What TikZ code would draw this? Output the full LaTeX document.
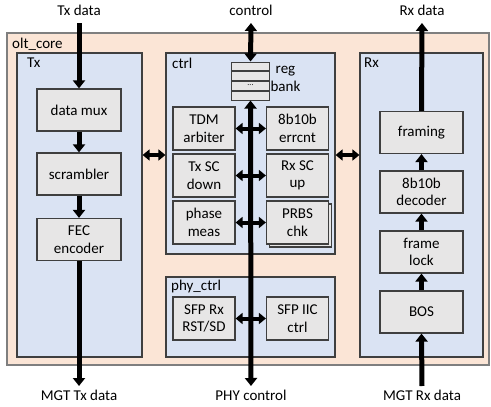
\documentclass[tikz,border=0pt]{standalone}
\usepackage{fontspec}
\setmainfont{Carlito}
\usetikzlibrary{arrows.meta}
\definecolor{peach}{HTML}{FBE5D6}
\definecolor{paleblue}{HTML}{DAE3F3}
\definecolor{boxgray}{HTML}{E7E6E6}
\definecolor{edgegray}{HTML}{7F7F7F}
\definecolor{darkedge}{HTML}{3F3F3F}
\tikzset{
  outerbox/.style={draw=edgegray, line width=1.5pt, fill=peach, minimum width=482pt, minimum height=332pt},
  groupbox/.style={draw=darkedge, line width=1.2pt, fill=paleblue},
  blockbox/.style={draw=darkedge, line width=1.2pt, fill=boxgray, align=center, inner sep=0pt},
  txbox/.style={blockbox, minimum width=84pt, minimum height=42pt},
  ctbox/.style={blockbox, minimum width=62pt, minimum height=43pt},
  rxbox/.style={blockbox, minimum width=83pt, minimum height=42pt},
  title/.style={anchor=west, inner sep=0pt},
  extlabel/.style={inner sep=0pt},
  bigflow/.style={line width=5pt, -{Triangle[width=12pt,length=8pt]}},
  bigbi/.style={line width=5pt, {Triangle[width=12pt,length=8pt]}-{Triangle[width=12pt,length=8pt]}},
  sidebi/.style={line width=4pt, {Triangle[width=11pt,length=7pt]}-{Triangle[width=11pt,length=7pt]}},
  regrow/.style={draw=darkedge, line width=1pt, fill=boxgray, minimum width=38pt, minimum height=8.75pt, inner sep=0pt, font=\fontsize{8}{8}\selectfont}
}
\begin{document}
\begin{tikzpicture}[x=1pt, y=-1pt, font=\fontsize{15}{17.5}\selectfont]
\useasboundingbox (0,0) rectangle (491,407);

% external labels
\node[extlabel] (txlbl) at (79,10) {Tx data};
\node[extlabel] (ctllbl) at (251,10) {control};
\node[extlabel] (rxlbl) at (422,10) {Rx data};
\node[extlabel] (mgttxlbl) at (79,395) {MGT Tx data};
\node[extlabel] (phylbl) at (251,395) {PHY control};
\node[extlabel] (mgtrxlbl) at (422,395) {MGT Rx data};

\coordinate (txin) at (79,23);
\coordinate (txout) at (79,386);
\coordinate (ctlin) at (251,23);
\coordinate (ctlout) at (251,386);
\coordinate (rxin) at (422,386);
\coordinate (rxout) at (422,23);

% containers
\node[outerbox] (core) at (248,199) {};
\node[title] (corelbl) at (12,44) {olt\_core};
\node[groupbox, minimum width=125pt, minimum height=304pt] (tx) at (79.5,205) {};
\node[title] (txlabel) at (27,63) {Tx};
\node[groupbox, minimum width=169pt, minimum height=201pt] (ctrl) at (250.5,153.5) {};
\node[title] (ctrllabel) at (172,63) {ctrl};
\node[groupbox, minimum width=169pt, minimum height=80pt] (phy) at (250.5,317) {};
\node[title] (phylabel) at (171,286) {phy\_ctrl};
\node[groupbox, minimum width=123pt, minimum height=304pt] (rx) at (421.5,205) {};
\node[title] (rxlabel) at (364,63) {Rx};

% Tx blocks
\node[txbox] (mux) at (79,110) {data mux};
\node[txbox] (scr) at (79,174) {scrambler};
\node[txbox] (fec) at (79,239.5) {FEC\\encoder};

% Rx blocks
\node[rxbox] (framing) at (421.5,132.5) {framing};
\node[rxbox] (dec) at (421.5,192) {8b10b\\decoder};
\node[rxbox] (flock) at (421.5,252) {frame\\lock};
\node[rxbox] (bos) at (421.5,312) {BOS};

% ctrl blocks
\node[ctbox] (tdm) at (204,128.5) {TDM\\arbiter};
\node[ctbox] (errcnt) at (297.5,128.5) {8b10b\\errcnt};
\node[ctbox] (txsc) at (204,175.5) {Tx SC\\down};
\node[ctbox] (rxsc) at (297.5,175.5) {Rx SC\\up};
\node[ctbox] (phase) at (204,222.5) {phase\\meas};
\node[ctbox] (prbsshadow) at (300.5,225.5) {};
\node[ctbox] (prbs) at (297.5,222.5) {PRBS\\chk};
\node[ctbox] (sfprx) at (204,318.5) {SFP Rx\\RST/SD};
\node[ctbox] (sfpiic) at (297.5,318.5) {SFP IIC\\ctrl};

% register bank
\node[regrow] (r1) at (250.5,66.4) {};
\node[regrow, anchor=north] (r2) at (r1.south) {};
\node[regrow, anchor=north] (r3) at (r2.south) {\raisebox{1pt}{...}};
\node[regrow, anchor=north] (r4) at (r3.south) {};
\coordinate (regtop) at (r1.north);
\coordinate (regbot) at (r4.south);
\node[align=center, inner sep=0pt] (reglbl) at (285.5,79) {reg\\bank};

% Tx data path
\draw[bigflow] (txin) -- (mux.north);
\draw[bigflow] (mux.south) -- (scr.north);
\draw[bigflow] (scr.south) -- (fec.north);
\draw[bigflow] (fec.south) -- (txout);

% Rx data path
\draw[bigflow] (rxin) -- (bos.south);
\draw[bigflow] (bos.north) -- (flock.south);
\draw[bigflow] (flock.north) -- (dec.south);
\draw[bigflow] (dec.north) -- (framing.south);
\draw[bigflow] (framing.north) -- (rxout);

% control bus
\draw[bigbi] (ctlin) -- (regtop);
\draw[bigbi] (regbot) -- (ctlout);

% ctrl side arrows
\draw[sidebi] (tdm.east) -- (errcnt.west);
\draw[sidebi] (txsc.east) -- (rxsc.west);
\draw[sidebi] (phase.east) -- (prbs.west);
\draw[sidebi] (sfprx.east) -- (sfpiic.west);

% inter-group arrows
\coordinate (txr) at (tx.east |- 0,155);
\coordinate (ctl) at (ctrl.west |- 0,155);
\coordinate (ctr) at (ctrl.east |- 0,155);
\coordinate (rxl) at (rx.west |- 0,155);
\draw[sidebi] (txr) -- (ctl);
\draw[sidebi] (ctr) -- (rxl);
\end{tikzpicture}
\end{document}
